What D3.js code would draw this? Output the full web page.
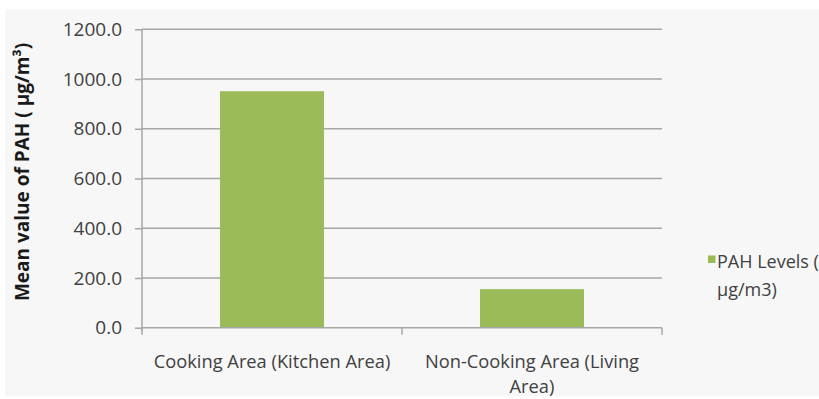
<!DOCTYPE html>
<html>
<head>
<meta charset="utf-8">
<script src="https://cdn.jsdelivr.net/npm/d3@7"></script>
<style>
  html, body { margin: 0; padding: 0; background: #ffffff; }
  svg { display: block; }
</style>
</head>
<body>
<svg id="chart" width="819" height="399"></svg>
<script>
const categories = ["Cooking Area (Kitchen Area)", "Non-Cooking Area (Living Area)"];
const categoryLines = [["Cooking Area (Kitchen Area)"], ["Non-Cooking Area (Living", "Area)"]];
const pahLevels = [951, 155];
const seriesName = ["PAH Levels (", "µg/m3)"];
const yTicks = [0, 200, 400, 600, 800, 1000, 1200];
const yTitle = "Mean value of PAH ( µg/m³)";

(function() {
const svg = d3.select("#chart");
const font = "'Open Sans', sans-serif";
const textColor = "#404040";
const gridColor = "#a6a6a6";

svg.append("rect").attr("x", 5).attr("y", 9).attr("width", 814).attr("height", 387).attr("fill", "#f7f7f7");

const pLeft = 142, pRight = 662, pTop = 29.3, pBottom = 327.7;
const x = d3.scaleBand().domain(categories).range([pLeft, pRight]).paddingInner(0.6).paddingOuter(0.3);
const xb = d3.scaleBand().domain(categories).range([pLeft, pRight]).padding(0);
const y = d3.scaleLinear().domain([0, 1200]).range([pBottom, pTop]);

// gridlines
svg.append("g").selectAll("line").data(yTicks.filter(d => d > 0)).join("line")
  .attr("x1", pLeft).attr("x2", pRight)
  .attr("y1", d => y(d)).attr("y2", d => y(d))
  .attr("stroke", gridColor).attr("stroke-width", 1.5);

// bars
svg.append("g").selectAll("rect").data(categories).join("rect")
  .attr("x", d => x(d)).attr("width", x.bandwidth())
  .attr("y", (d, i) => y(pahLevels[i]))
  .attr("height", (d, i) => y(0) - y(pahLevels[i]))
  .attr("fill", "#9bbb59");

// y axis
const yAxis = d3.axisLeft(y).tickValues(yTicks).tickFormat(d3.format(".1f")).tickSize(7).tickPadding(13);
const gy = svg.append("g").attr("transform", `translate(${pLeft},0)`).call(yAxis);
gy.select(".domain").remove();
gy.selectAll(".tick line").attr("stroke", gridColor).attr("stroke-width", 1.5);
gy.selectAll(".tick text").attr("fill", textColor).style("font-family", font).style("font-size", "19px");
svg.append("line").attr("x1", pLeft).attr("x2", pLeft).attr("y1", pTop).attr("y2", pBottom + 3)
  .attr("stroke", gridColor).attr("stroke-width", 1.5);

// x axis
svg.append("line").attr("x1", pLeft).attr("x2", pRight).attr("y1", pBottom).attr("y2", pBottom)
  .attr("stroke", gridColor).attr("stroke-width", 1.5);
const xTickPos = [pLeft].concat(categories.map(c => xb(c) + xb.bandwidth()));
svg.append("g").selectAll("line").data(xTickPos).join("line")
  .attr("x1", d => d).attr("x2", d => d).attr("y1", pBottom).attr("y2", pBottom + 7)
  .attr("stroke", gridColor).attr("stroke-width", 1.5);

const xl = svg.append("g").selectAll("text").data(categories).join("text")
  .attr("x", d => xb(d) + xb.bandwidth() / 2)
  .attr("y", 368)
  .attr("text-anchor", "middle")
  .attr("fill", textColor).style("font-family", font).style("font-size", "18.3px");
xl.each(function(d, i) {
  d3.select(this).selectAll("tspan").data(categoryLines[i]).join("tspan")
    .attr("x", xb(d) + xb.bandwidth() / 2)
    .attr("dy", (t, j) => j === 0 ? 0 : 25)
    .text(t => t);
});

// y title
svg.append("text")
  .attr("transform", `translate(29,172) rotate(-90)`)
  .attr("text-anchor", "middle")
  .attr("fill", "#1a1a1a")
  .style("font-family", font).style("font-size", "19px").style("font-weight", "bold")
  .text(yTitle);

// legend
svg.append("rect").attr("x", 708).attr("y", 255.5).attr("width", 7.5).attr("height", 7.5).attr("fill", "#9bbb59");
svg.append("text").attr("x", 717).attr("y", 268)
  .attr("fill", textColor).style("font-family", font).style("font-size", "18px")
  .selectAll("tspan").data(seriesName).join("tspan")
  .attr("x", 717).attr("dy", (t, j) => j === 0 ? 0 : 28).text(t => t);
})();
</script>
</body>
</html>
